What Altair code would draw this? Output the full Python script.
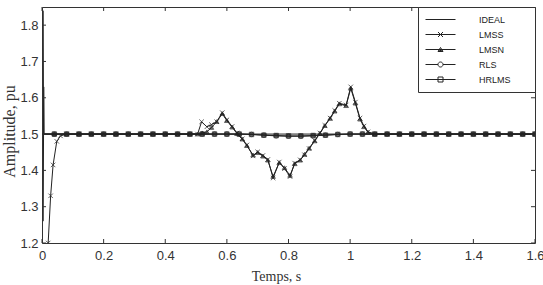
import altair as alt
import pandas as pd

SERIES = ["IDEAL", "LMSS", "LMSN", "RLS", "HRLMS"]
X_TICKS = [0, 0.2, 0.4, 0.6, 0.8, 1.0, 1.2, 1.4, 1.6]
Y_TICKS = [1.2, 1.3, 1.4, 1.5, 1.6, 1.7, 1.8]

# flat stretches (read at the marker spacing)
PRE_T = [0.08, 0.12, 0.16, 0.20, 0.24, 0.28, 0.32, 0.36, 0.40, 0.44, 0.48]
PRE_V = [1.5, 1.5, 1.5, 1.5, 1.5, 1.5, 1.5, 1.5, 1.5, 1.5, 1.5]
POST_T = [1.08, 1.12, 1.16, 1.20, 1.24, 1.28, 1.32, 1.36, 1.40, 1.44, 1.48, 1.52, 1.56, 1.60]
POST_V = [1.5, 1.5, 1.5, 1.5, 1.5, 1.5, 1.5, 1.5, 1.5, 1.5, 1.5, 1.5, 1.5, 1.5]

IDEAL_T = [0.0, 1.6]
IDEAL_V = [1.5, 1.5]

LMSS_START_T = [0.020, 0.028, 0.036, 0.048, 0.060]
LMSS_START_V = [1.20, 1.33, 1.415, 1.48, 1.495]
LMSS_MID_T = [0.505, 0.518, 0.535, 0.550, 0.567, 0.585, 0.600, 0.617, 0.633, 0.650,
              0.665, 0.685, 0.700, 0.717, 0.733, 0.750, 0.770, 0.787, 0.805, 0.820,
              0.838, 0.852, 0.867, 0.885, 0.902, 0.918, 0.935, 0.950, 0.965, 0.987,
              1.002, 1.017, 1.032, 1.045, 1.058]
LMSS_MID_V = [1.500, 1.534, 1.520, 1.526, 1.534, 1.559, 1.539, 1.521, 1.503, 1.487,
              1.470, 1.440, 1.451, 1.441, 1.430, 1.379, 1.423, 1.405, 1.383, 1.420,
              1.429, 1.443, 1.460, 1.482, 1.503, 1.524, 1.544, 1.565, 1.585, 1.580,
              1.630, 1.588, 1.544, 1.522, 1.506]

LMSN_START_T = [0.004, 0.005, 0.04]
LMSN_START_V = [1.26, 1.5, 1.5]
LMSN_MID_T = [0.505, 0.520, 0.535, 0.550, 0.567, 0.585, 0.600, 0.617, 0.633, 0.650,
              0.665, 0.685, 0.700, 0.717, 0.733, 0.750, 0.770, 0.787, 0.805, 0.820,
              0.838, 0.852, 0.867, 0.885, 0.902, 0.918, 0.935, 0.950, 0.965, 0.987,
              1.002, 1.017, 1.032, 1.045, 1.058]
LMSN_MID_V = [1.500, 1.503, 1.506, 1.518, 1.534, 1.556, 1.537, 1.519, 1.501, 1.486,
              1.468, 1.442, 1.449, 1.439, 1.428, 1.383, 1.421, 1.407, 1.386, 1.418,
              1.428, 1.444, 1.461, 1.481, 1.502, 1.523, 1.543, 1.563, 1.583, 1.578,
              1.626, 1.585, 1.541, 1.520, 1.505]

RLS_START_T = [0.004, 0.005, 0.04]
RLS_START_V = [1.84, 1.5, 1.5]
HRLMS_START_T = [0.006, 0.007, 0.04]
HRLMS_START_V = [1.63, 1.5, 1.5]
SLOW_MID_T = [0.52, 0.56, 0.60, 0.64, 0.68, 0.72, 0.76, 0.80, 0.84, 0.88, 0.92, 0.96, 1.00, 1.04]
RLS_MID_V = [1.5, 1.5, 1.5, 1.5, 1.499, 1.497, 1.495, 1.494, 1.494, 1.495, 1.497, 1.499, 1.5, 1.5]
HRLMS_MID_V = [1.5, 1.5, 1.5, 1.5, 1.499, 1.497, 1.496, 1.495, 1.495, 1.496, 1.497, 1.499, 1.5, 1.5]

series_t = {
    "IDEAL": IDEAL_T,
    "LMSS": LMSS_START_T + PRE_T + LMSS_MID_T + POST_T,
    "LMSN": LMSN_START_T + PRE_T + LMSN_MID_T + POST_T,
    "RLS": RLS_START_T + PRE_T + SLOW_MID_T + POST_T,
    "HRLMS": HRLMS_START_T + PRE_T + SLOW_MID_T + POST_T,
}
series_v = {
    "IDEAL": IDEAL_V,
    "LMSS": LMSS_START_V + PRE_V + LMSS_MID_V + POST_V,
    "LMSN": LMSN_START_V + PRE_V + LMSN_MID_V + POST_V,
    "RLS": RLS_START_V + PRE_V + RLS_MID_V + POST_V,
    "HRLMS": HRLMS_START_V + PRE_V + HRLMS_MID_V + POST_V,
}

rows = []
for s in SERIES:
    for t, v in zip(series_t[s], series_v[s]):
        rows.append({"series": s, "t": t, "v": v})
df = pd.DataFrame(rows)
df_mark = df[(df["series"] != "IDEAL") & (df["t"] > 0.01)]

MARK_SERIES = ["LMSS", "LMSN", "RLS", "HRLMS"]
MARK_SHAPES = ["M-1,-1L1,1M-1,1L1,-1", "M-1,0.8L0,-0.9L1,0.8Z", "circle", "square"]
MARK_FILLS = ["transparent", "#222222", "transparent", "#222222"]

LEG_PATHS = [
    "M-1,0H5",
    "M-1,0H5M1.5,-0.5L2.5,0.5M1.5,0.5L2.5,-0.5",
    "M-1,0H5M1.5,0.4L2,-0.4L2.5,0.4ZM1.75,0.2H2.25",
    "M-1,0H1.5M2.5,0H5M1.5,0A0.5,0.5 0 1,0 2.5,0A0.5,0.5 0 1,0 1.5,0",
    "M-1,0H5M1.5,-0.5H2.5V0.5H1.5Z",
]

xs = alt.Scale(domain=[0, 1.6], nice=False, zero=False)
ys = alt.Scale(domain=[1.2, 1.85], nice=False, zero=False)

AX = alt.Axis(values=X_TICKS, format="~g", title="Temps, s",
              labelPadding=6, titleFont="Liberation Serif",
              titleFontSize=14, titlePadding=7, titleX=234,
              labelFlush=False, labelOverlap=False)
AY = alt.Axis(values=Y_TICKS, format=".1f", title="Amplitude, pu",
              labelPadding=4, titleFont="Liberation Serif",
              titleFontSize=16, titlePadding=2, titleY=124,
              labelFlush=False, labelOverlap=False)

X = alt.X("t:Q", scale=xs, axis=AX)
Y = alt.Y("v:Q", scale=ys, axis=AY)

lines = alt.Chart(df).mark_line(clip=True, strokeWidth=1, color="#222222").encode(
    x=X, y=Y, detail="series:N")

points = alt.Chart(df_mark).mark_point(clip=True, filled=False, size=20, strokeWidth=1,
                                       color="#222222").encode(
    x=X, y=Y,
    shape=alt.Shape("series:N", scale=alt.Scale(domain=MARK_SERIES, range=MARK_SHAPES), legend=None),
    fill=alt.Fill("series:N", scale=alt.Scale(domain=MARK_SERIES, range=MARK_FILLS), legend=None),
)

legend_df = pd.DataFrame({"name": SERIES, "t": [0.3] * 5, "v": [1.5] * 5})
dummy = alt.Chart(legend_df).mark_point(opacity=0, filled=False, color="#222222").encode(
    x=X, y=Y,
    shape=alt.Shape("name:N", scale=alt.Scale(domain=SERIES, range=LEG_PATHS),
                    legend=alt.Legend(title="MM", titleOrient="right", titleOpacity=0,
                                      titleFontSize=9, titlePadding=2,
                                      orient="top-right", offset=0, padding=7,
                                      strokeColor="#333333", fillColor="white",
                                      symbolSize=100, symbolStrokeColor="#222222",
                                      symbolStrokeWidth=1, symbolFillColor="transparent",
                                      symbolOpacity=1, labelFont="Liberation Sans",
                                      labelFontSize=9, labelColor="#222222",
                                      labelOffset=43, rowPadding=4)),
)

tick_x = pd.DataFrame({"t": X_TICKS})
tick_y = pd.DataFrame({"v": Y_TICKS})
tb = alt.Chart(tick_x).mark_rule(color="#333333").encode(
    x=X, y=alt.YDatum(1.2, scale=ys, axis=AY), y2=alt.Y2Datum(1.211))
tt = alt.Chart(tick_x).mark_rule(color="#333333").encode(
    x=X, y=alt.YDatum(1.85, scale=ys, axis=AY), y2=alt.Y2Datum(1.839))
tl = alt.Chart(tick_y).mark_rule(color="#333333").encode(
    y=Y, x=alt.XDatum(0, scale=xs, axis=AX), x2=alt.X2Datum(0.013))
tr = alt.Chart(tick_y).mark_rule(color="#333333").encode(
    y=Y, x=alt.XDatum(1.6, scale=xs, axis=AX), x2=alt.X2Datum(1.587))

chart = alt.layer(lines, points, tb, tt, tl, tr, dummy).resolve_scale(
    shape="independent", fill="independent"
).properties(
    width=493, height=236,
    padding={"left": 42, "top": 7, "right": 8, "bottom": 42},
    autosize=alt.AutoSizeParams(type="none"),
).configure_view(stroke="#333333", strokeWidth=1).configure_axis(
    grid=False, domain=False, ticks=False,
    labelFont="Liberation Sans", labelFontSize=13, labelColor="#333333",
    titleColor="#333333", titleFontWeight="normal",
)

chart.save("out.html", embed_options={"renderer": "svg", "actions": False})
